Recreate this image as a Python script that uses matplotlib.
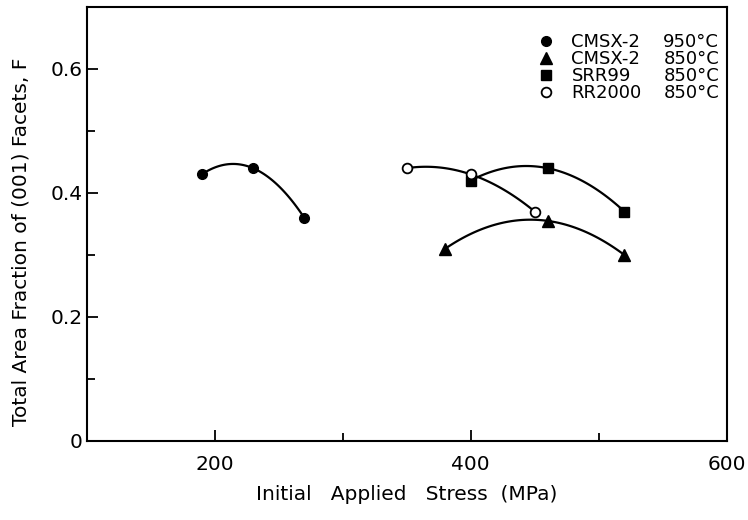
import numpy as np
import matplotlib
matplotlib.use("Agg")
import matplotlib.pyplot as plt
from matplotlib.lines import Line2D
from matplotlib.ticker import MultipleLocator

# Data
cmsx2_950_x = [190, 230, 270]
cmsx2_950_y = [0.43, 0.44, 0.36]
cmsx2_850_x = [380, 460, 520]
cmsx2_850_y = [0.31, 0.355, 0.30]
srr99_x = [400, 460, 520]
srr99_y = [0.42, 0.44, 0.37]
rr2000_x = [350, 400, 450]
rr2000_y = [0.44, 0.43, 0.37]

names = ["CMSX-2", "CMSX-2", "SRR99", "RR2000"]
temps = ["950°C", "850°C", "850°C", "850°C"]

fig = plt.figure(figsize=(7.48, 5.2), dpi=100)
ax = fig.add_axes([0.1157, 0.152, 0.856, 0.8346])

series = [
    (cmsx2_950_x, cmsx2_950_y, dict(marker='o', mfc='black', mec='black', ms=7)),
    (cmsx2_850_x, cmsx2_850_y, dict(marker='^', mfc='black', mec='black', ms=8)),
    (srr99_x, srr99_y, dict(marker='s', mfc='black', mec='black', ms=7)),
    (rr2000_x, rr2000_y, dict(marker='o', mfc='white', mec='black', ms=7, mew=1.3)),
]

handles = []
for xs, ys, st in series:
    c = np.polyfit(xs, ys, 2)
    xx = np.linspace(min(xs), max(xs), 100)
    ax.plot(xx, np.polyval(c, xx), color='black', lw=1.6, zorder=2)
    ax.plot(xs, ys, linestyle='none', zorder=3, **st)
    handles.append(Line2D([], [], linestyle='none', **st))

blank = [Line2D([], [], linestyle='none') for _ in range(4)]
leg = ax.legend(handles + blank, names + temps, ncol=2, loc='upper right',
                bbox_to_anchor=(1.005, 0.965), frameon=False, fontsize=13,
                handlelength=1.0, handletextpad=0.9, columnspacing=-0.7,
                labelspacing=-0.05, borderaxespad=0.2)

ax.set_xlim(100, 600)
ax.set_ylim(0, 0.7)
ax.set_xticks([200, 400, 600])
ax.set_xticklabels(["200", "400", "600"])
ax.xaxis.set_minor_locator(MultipleLocator(100))
ax.set_yticks([0, 0.2, 0.4, 0.6])
ax.set_yticklabels(["0", "0.2", "0.4", "0.6"])
ax.yaxis.set_minor_locator(MultipleLocator(0.1))
ax.tick_params(which='both', direction='in', width=1.3, labelsize=14.5, top=False, right=False)
ax.tick_params(which='major', length=8)
ax.tick_params(axis='x', which='major', pad=10)
ax.tick_params(axis='y', which='major', pad=3)
ax.tick_params(which='minor', length=6)
for s in ax.spines.values():
    s.set_linewidth(1.5)

ax.set_xlabel("Initial   Applied   Stress  (MPa)", fontsize=14.5, labelpad=8)
ax.set_ylabel("Total Area Fraction of (001) Facets, F", fontsize=14.5)
ax.yaxis.set_label_coords(-0.087, 0.458)

fig.savefig("out.png", dpi=100)
